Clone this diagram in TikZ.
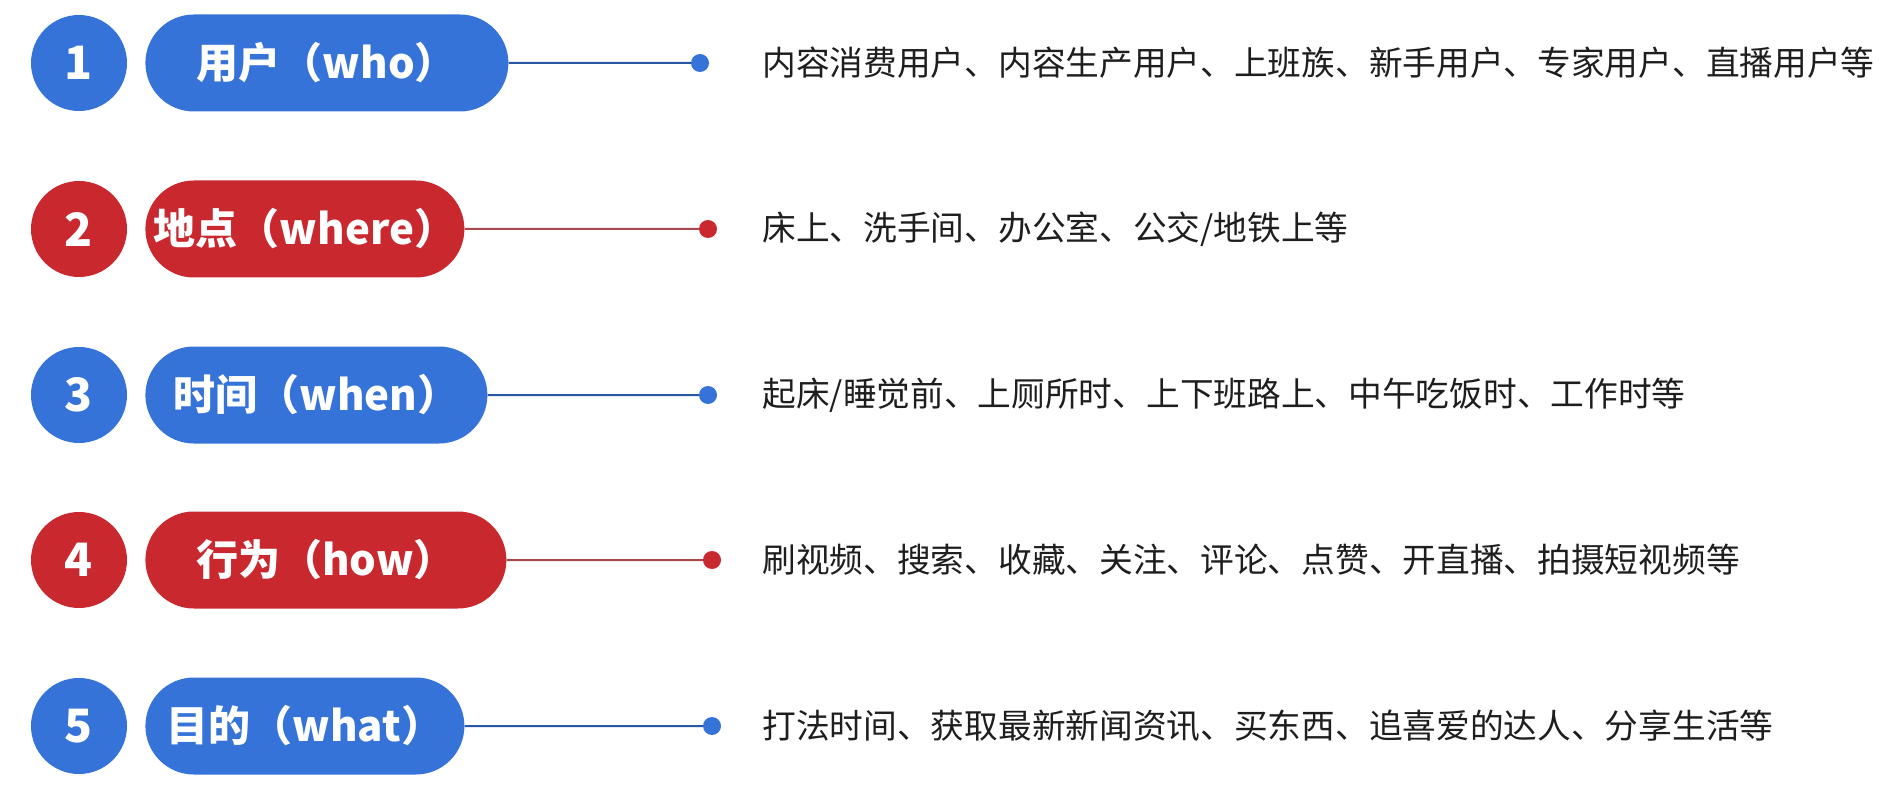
\documentclass[tikz,border=0pt]{standalone}
\usepackage{fontspec}
\setmainfont{Noto Sans CJK SC}
\usepackage{xcolor}
\usetikzlibrary{positioning,shapes.misc}

\definecolor{tagblue}{HTML}{3673D8}
\definecolor{tagred}{HTML}{C9282E}
\definecolor{lineblue}{HTML}{2A56A8}
\definecolor{linered}{HTML}{A8474C}
\definecolor{textgray}{HTML}{1E1E1E}

\begin{document}
\begin{tikzpicture}[x=1pt, y=-1pt, num/.style={circle, fill=#1, text=white, minimum size=96pt, inner sep=0pt, font=\fontsize{46}{46}\selectfont\bfseries}, tag/.style={rounded rectangle, fill=#1, text=white, minimum height=97pt, inner sep=0pt, font=\fontsize{42}{42}\selectfont\bfseries}, dot/.style={circle, fill=#1, minimum size=18pt, inner sep=0pt}, desc/.style={inner sep=0pt, text=textgray, font=\fontsize{33.7}{34}\selectfont}, link/.style={draw=#1, line width=2pt}]
\useasboundingbox (0,0) rectangle (1898,786);
\node[num=tagblue] (n1) at (79,63) {1};
\node[tag=tagblue, minimum width=363pt, right=18pt of n1] (who) {用户（who）};
\node[dot=tagblue] (d1) at (700,63) {};
\node[desc, right=53pt of d1] (t1) {内容消费用户、内容生产用户、上班族、新手用户、专家用户、直播用户等};
\node[num=tagred] (n2) at (79,229) {2};
\node[tag=tagred, minimum width=319pt, right=18pt of n2] (where) {地点（where）};
\node[dot=tagred] (d2) at (708,229) {};
\node[desc, right=45pt of d2] (t2) {床上、洗手间、办公室、公交/地铁上等};
\node[num=tagblue] (n3) at (79,395) {3};
\node[tag=tagblue, minimum width=342pt, right=18pt of n3] (when) {时间（when）};
\node[dot=tagblue] (d3) at (708,395) {};
\node[desc, right=45pt of d3] (t3) {起床/睡觉前、上厕所时、上下班路上、中午吃饭时、工作时等};
\node[num=tagred] (n4) at (79,560) {4};
\node[tag=tagred, minimum width=361pt, right=18pt of n4] (how) {行为（how）};
\node[dot=tagred] (d4) at (712,560) {};
\node[desc, right=41pt of d4] (t4) {刷视频、搜索、收藏、关注、评论、点赞、开直播、拍摄短视频等};
\node[num=tagblue] (n5) at (79,726) {5};
\node[tag=tagblue, minimum width=319pt, right=18pt of n5] (what) {目的（what）};
\node[dot=tagblue] (d5) at (712,726) {};
\node[desc, right=41pt of d5] (t5) {打法时间、获取最新新闻资讯、买东西、追喜爱的达人、分享生活等};
\draw[link=lineblue] (who) -- (d1);
\draw[link=linered] (where) -- (d2);
\draw[link=lineblue] (when) -- (d3);
\draw[link=linered] (how) -- (d4);
\draw[link=lineblue] (what) -- (d5);
\end{tikzpicture}
\end{document}
